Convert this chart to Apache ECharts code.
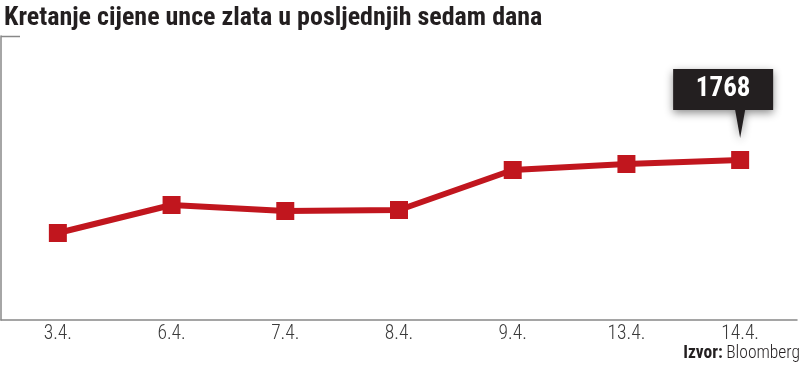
<!DOCTYPE html>
<html><head><meta charset="utf-8">
<script src="https://cdn.jsdelivr.net/npm/echarts@6/dist/echarts.min.js"></script>
<style>html,body{margin:0;padding:0;background:#fff}#c{width:800px;height:368px}</style>
</head><body><div id="c"></div>
<script>
var categories = ['3.4.', '6.4.', '7.4.', '8.4.', '9.4.', '13.4.', '14.4.'];
var prices = [1622, 1678, 1666, 1668, 1748, 1760, 1768];
var highlightValue = 1768;
var titleText = 'Kretanje cijene unce zlata u posljednjih sedam dana';

var FONT = 'Roboto Condensed';
var chart = echarts.init(document.getElementById('c'));
var red = '#c1161e';
chart.setOption({
  animation: false,
  backgroundColor: '#fff',
  title: {
    text: titleText, left: -1, top: 0,
    textStyle: {fontFamily: FONT, fontWeight: 'bold', fontSize: 26, color: '#231f20'}
  },
  graphic: [{type: 'line', shape: {x1: 1, y1: 36.5, x2: 20, y2: 36.5}, style: {stroke: '#888', lineWidth: 1.5}},
    {type: 'text', right: 0, top: 345, style: {rich: {b: {fontFamily: FONT, fontWeight: 'bold', fontSize: 17.5, fill: '#231f20'}, n: {fontFamily: FONT, fontWeight: 300, fontSize: 17.5, fill: '#231f20'}}, text: '{b|Izvor:} {n|Bloomberg}'}}],
  grid: {left: 1, right: 3, top: 36, bottom: 48},
  xAxis: {
    type: 'category', data: categories, boundaryGap: true,
    axisLine: {lineStyle: {color: '#888', width: 1.5}},
    axisTick: {inside: true, length: 6, lineStyle: {color: '#888'}},
    axisLabel: {margin: 4, fontFamily: FONT, fontWeight: 300, fontSize: 19.5, color: '#3a3a3a'}
  },
  yAxis: {
    type: 'value', min: 1448, max: 2016,
    axisLine: {show: true, lineStyle: {color: '#888', width: 1.5}},
    axisTick: {show: false}, axisLabel: {show: false}, splitLine: {show: false}
  },
  series: [{
    type: 'line', data: prices,
    symbol: 'rect', symbolSize: 18,
    lineStyle: {color: red, width: 6},
    itemStyle: {color: red},
    markPoint: {
      symbol: 'path://M0,0 H100 V41 H72 L67,69 L62,41 H0 Z',
      symbolSize: [100, 69],
      symbolOffset: [-17, -56.5],
      itemStyle: {color: '#231f20', shadowBlur: 8, shadowColor: 'rgba(0,0,0,0.45)', shadowOffsetY: 3},
      label: {show: true, position: 'inside', offset: [0, -14], formatter: String(highlightValue),
        fontFamily: FONT, fontWeight: 'bold', fontSize: 27, color: '#fff'},
      data: [{coord: [categories.length - 1, highlightValue], value: highlightValue}]
    }
  }]
});
</script></body></html>
